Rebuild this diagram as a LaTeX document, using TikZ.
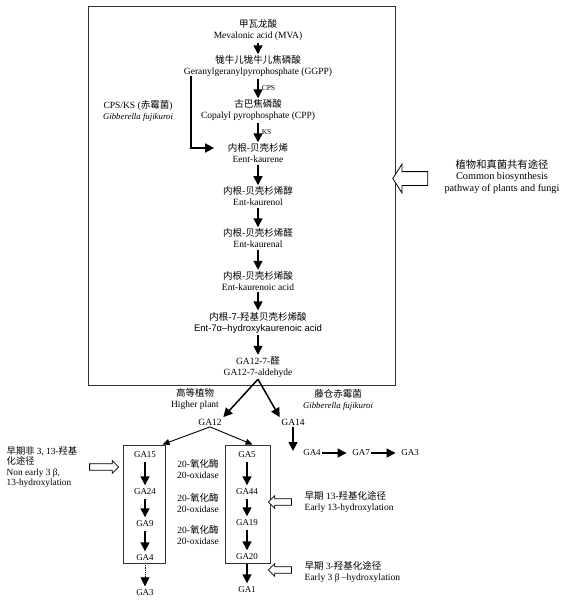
\documentclass[tikz,border=0pt]{standalone}
\usepackage{fontspec}
\setmainfont{Liberation Serif}
\newfontfamily\cjk{Noto Sans CJK SC}
\newfontfamily\arial{Liberation Sans}
\usetikzlibrary{arrows.meta,shapes.arrows}

\begin{document}
\begin{tikzpicture}[x=1pt,y=-1pt,
  chem/.style={align=center,font=\fontsize{9.5}{11}\selectfont,inner sep=1.5pt},
  ga/.style={font=\fontsize{9}{10}\selectfont,inner sep=1.5pt},
  flow/.style={-{Triangle[width=9pt,length=9pt]},line width=1.5pt},
  boxflow/.style={flow,shorten <=2pt,shorten >=2pt},
  thinflow/.style={-{Triangle[width=6pt,length=7pt]},line width=0.9pt},
  enz/.style={right,font=\fontsize{7.5}{8}\selectfont,inner sep=3pt},
  hollow/.style={single arrow,draw,line width=0.8pt,fill=white,inner xsep=0pt,single arrow head indent=0pt},
  frame/.style={draw=black!80,line width=1pt,inner sep=0pt}]

\useasboundingbox (0,0) rectangle (574,600);

% common pathway
\node[frame,minimum width=307pt,minimum height=379pt] (common) at (241.5,195.5) {};

\node[chem] (mva) at (258,30.5) {{\cjk 甲瓦龙酸}\\Mevalonic acid (MVA)};
\node[chem] (ggpp) at (258,66.5) {{\cjk 牻牛儿牻牛儿焦磷酸}\\Geranylgeranylpyrophosphate (GGPP)};
\node[chem] (cpp) at (258,110.5) {{\cjk 古巴焦磷酸}\\Copalyl pyrophosphate (CPP)};
\node[chem] (kaurene) at (258,153.5) {{\cjk 内根-贝壳杉烯}\\Eent-kaurene};
\node[chem] (kaurenol) at (258,196.5) {{\cjk 内根-贝壳杉烯醇}\\Ent-kaurenol};
\node[chem] (kaurenal) at (258,238.5) {{\cjk 内根-贝壳杉烯醛}\\Ent-kaurenal};
\node[chem] (kaurenoic) at (258,281) {{\cjk 内根-贝壳杉烯酸}\\Ent-kaurenoic acid};
\node[chem] (hydroxy) at (258,322.5) {{\cjk 内根-7-羟基贝壳杉烯酸}\\{\arial Ent-7α–hydroxykaurenoic acid}};
\node[chem] (aldehyde) at (258,367) {GA12-7-{\cjk 醛}\\GA12-7-aldehyde};

\path[] (mva) [flow] edge (ggpp);
\path[] (ggpp) [flow] edge node [enz] {CPS} (cpp);
\path[] (cpp) [flow] edge node [enz] {KS} (kaurene);
\path[] (kaurene) [flow] edge (kaurenol);
\path[] (kaurenol) [flow] edge (kaurenal);
\path[] (kaurenal) [flow] edge (kaurenoic);
\path[] (kaurenoic) [flow] edge (hydroxy);
\path[] (hydroxy) [flow] edge (aldehyde);

\node[chem] (cpsks) at (138,110.5) {CPS/KS ({\cjk 赤霉菌})\\{\fontsize{8.8}{11}\selectfont\itshape Gibberella fujikuroi}};
\coordinate (cpsstart) at (191,76);
\draw[flow] (cpsstart) |- ([xshift=-12pt,yshift=5.5pt]kaurene.west);

\node[hollow,minimum height=35pt,inner ysep=6.5pt,single arrow head extend=7.5pt,single arrow tip angle=115,shape border rotate=180] (commonarrow) at (412.5,178.5) {};
\node[chem,font=\fontsize{10.3}{11.5}\selectfont] (commonlabel) at (502,176.5) {{\cjk 植物和真菌共有途径}\\Common biosynthesis\\pathway of plants and fungi};

% branches
\node[chem] (ga12) at (210,422) {GA12};
\node[chem] (ga14) at (293,422) {GA14};
\path[] (aldehyde.south) [flow] edge (ga12.north east);
\path[] (aldehyde.south) [flow] edge (ga14.north west);
\node[chem] (plant) at (195,399.5) {{\cjk 高等植物}\\Higher plant};
\node[chem] (fungus) at (338,399.5) {{\cjk 藤仓赤霉菌}\\{\fontsize{8.8}{11}\selectfont\itshape Gibberella fujikuroi}};

\node[frame,minimum width=42pt,minimum height=118pt] (nonbox) at (144,504) {};
\node[frame,minimum width=45pt,minimum height=118pt] (box13) at (247.5,504) {};
\path[] (ga12.south) [thinflow] edge ([xshift=-3pt]nonbox.north east);
\path[] (ga12.south) [thinflow] edge ([xshift=5pt]box13.north);

% non early 3,13-hydroxylation
\node[ga] (ga15) at (145,455) {GA15};
\node[ga] (ga24) at (145,492) {GA24};
\node[ga] (ga9) at (145,524) {GA9};
\node[ga] (ga4) at (145,558) {GA4};
\node[ga] (ga3) at (145,593) {GA3};
\path[] (ga15) [boxflow] edge (ga24);
\path[] (ga24) [boxflow] edge (ga9);
\path[] (ga9) [boxflow] edge (ga4);
\path[] (ga4) [boxflow,line width=0.8pt,densely dotted] edge (ga3);

% early 13-hydroxylation
\node[ga] (ga5) at (247,455) {GA5};
\node[ga] (ga44) at (247,492) {GA44};
\node[ga] (ga19) at (247,523) {GA19};
\node[ga] (ga20) at (247,557) {GA20};
\node[ga] (ga1) at (247,590) {GA1};
\path[] (ga5) [boxflow] edge (ga44);
\path[] (ga44) [boxflow] edge (ga19);
\path[] (ga19) [boxflow] edge (ga20);
\path[] (ga20) [boxflow] edge (ga1);

\node[chem] (ox1) at (198,469) {20-{\cjk 氧化酶}\\20-oxidase};
\node[chem] (ox2) at (198,503) {20-{\cjk 氧化酶}\\20-oxidase};
\node[chem] (ox3) at (198,535) {20-{\cjk 氧化酶}\\20-oxidase};

% fungus
\coordinate (ga14down) at (293,451);
\path[] (ga14) [flow] edge (ga14down);
\node[ga] (fga4) at (312,453) {GA4};
\node[ga] (fga7) at (361,453) {GA7};
\node[ga] (fga3) at (410,453) {GA3};
\path[] (fga4) [flow,shorten >=4pt] edge (fga7);
\path[] (fga7) [flow,shorten >=4pt] edge (fga3);

% pathway labels
\node[hollow,minimum height=29pt,inner ysep=2.8pt,single arrow head extend=3.2pt] (nonarrow) at (102.5,467) {};
\node[chem,align=left,anchor=north west,font=\fontsize{9.3}{10.4}\selectfont] (nonlabel) at (5,445) {{\cjk 早期非} 3, 13-{\cjk 羟基}\\{\cjk 化途径}\\Non early 3 β,\\13-hydroxylation};
\node[hollow,minimum height=23pt,inner ysep=2.8pt,single arrow head extend=3.2pt,shape border rotate=180] (arrow13) at (281.5,502) {};
\node[chem,align=left,anchor=west] (label13) at (303,502) {{\cjk 早期} 13-{\cjk 羟基化途径}\\Early 13-hydroxylation};
\node[hollow,minimum height=23pt,inner ysep=2.8pt,single arrow head extend=3.2pt,shape border rotate=180] (arrow3) at (281.5,570) {};
\node[chem,align=left,anchor=west] (label3) at (303,572) {{\cjk 早期} 3-{\cjk 羟基化途径}\\Early 3 β –hydroxylation};
\end{tikzpicture}
\end{document}
